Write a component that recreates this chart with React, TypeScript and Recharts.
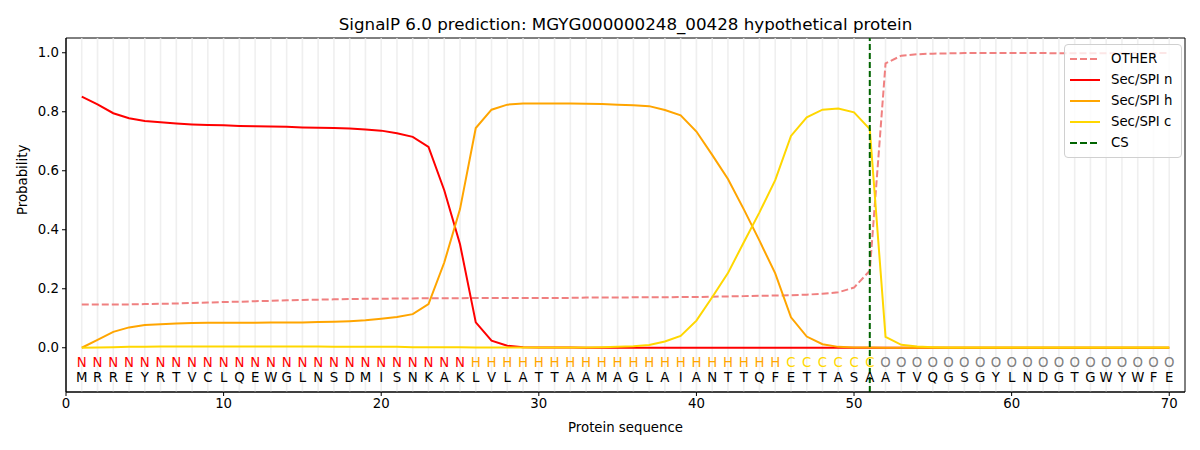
import { LineChart, Line, XAxis, YAxis, ReferenceLine, ReferenceDot, ReferenceArea, Legend } from 'recharts'

const positions = Array.from({ length: 70 }, (_, i) => i + 1)

const sequence = 'MRREYRTVCLQEWGLNSDMISNKAKLVLATTAAMAGLAIANTTQFETTASAATVQGSGYLNDGTGWYWFE'.split('')

const regionLabels = (
  'NNNNNNNNNNNNNNNNNNNNNNNNN' + 'HHHHHHHHHHHHHHHHHHHH' + 'CCCCCC' + 'OOOOOOOOOOOOOOOOOOO'
).split('')

const otherProb = [
  0.147, 0.147, 0.147, 0.147, 0.148, 0.149, 0.150, 0.152, 0.153, 0.155,
  0.156, 0.158, 0.159, 0.161, 0.162, 0.163, 0.164, 0.165, 0.166, 0.166,
  0.167, 0.167, 0.168, 0.168, 0.168, 0.169, 0.169, 0.169, 0.169, 0.169,
  0.169, 0.169, 0.170, 0.170, 0.170, 0.171, 0.171, 0.171, 0.172, 0.172,
  0.173, 0.174, 0.175, 0.176, 0.177, 0.178, 0.180, 0.183, 0.188, 0.204,
  0.261, 0.964, 0.990, 0.995, 0.997, 0.998, 0.999, 0.999, 0.999, 0.999,
  0.999, 0.999, 0.998, 0.998, 0.998, 0.998, 0.998, 0.998, 0.999, 0.999,
]

const nProb = [
  0.851, 0.825, 0.795, 0.778, 0.769, 0.764, 0.760, 0.757, 0.755, 0.754,
  0.752, 0.751, 0.750, 0.749, 0.747, 0.746, 0.745, 0.743, 0.740, 0.736,
  0.727, 0.715, 0.681, 0.534, 0.351, 0.086, 0.024, 0.007, 0.002, 0.001,
  0.001, 0.001, 0.000, 0.000, 0.000, 0.000, 0.000, 0.000, 0.000, 0.000,
  0.000, 0.000, 0.000, 0.000, 0.000, 0.000, 0.000, 0.000, 0.000, 0.000,
  0.000, 0.000, 0.000, 0.000, 0.000, 0.000, 0.000, 0.000, 0.000, 0.000,
  0.000, 0.000, 0.000, 0.000, 0.000, 0.000, 0.000, 0.000, 0.000, 0.000,
]

const hProb = [
  0.000, 0.027, 0.054, 0.069, 0.077, 0.080, 0.082, 0.084, 0.085, 0.085,
  0.085, 0.085, 0.086, 0.086, 0.086, 0.087, 0.088, 0.090, 0.093, 0.098,
  0.104, 0.114, 0.148, 0.289, 0.470, 0.745, 0.807, 0.824, 0.828, 0.828,
  0.828, 0.828, 0.827, 0.826, 0.824, 0.822, 0.819, 0.806, 0.788, 0.733,
  0.654, 0.572, 0.470, 0.363, 0.252, 0.103, 0.038, 0.012, 0.003, 0.001,
  0.001, 0.000, 0.000, 0.000, 0.000, 0.000, 0.000, 0.000, 0.000, 0.000,
  0.000, 0.000, 0.000, 0.000, 0.000, 0.000, 0.000, 0.000, 0.000, 0.000,
]

const cProb = [
  0.000, 0.001, 0.002, 0.003, 0.003, 0.004, 0.004, 0.004, 0.004, 0.004,
  0.004, 0.004, 0.004, 0.004, 0.004, 0.004, 0.003, 0.003, 0.003, 0.003,
  0.003, 0.002, 0.002, 0.002, 0.002, 0.001, 0.001, 0.001, 0.001, 0.001,
  0.001, 0.001, 0.001, 0.002, 0.003, 0.005, 0.009, 0.021, 0.040, 0.092,
  0.171, 0.253, 0.357, 0.459, 0.568, 0.718, 0.781, 0.807, 0.811, 0.798,
  0.741, 0.037, 0.010, 0.004, 0.002, 0.001, 0.001, 0.001, 0.001, 0.001,
  0.001, 0.001, 0.001, 0.001, 0.001, 0.001, 0.001, 0.001, 0.001, 0.001,
]

const cleavageSite = 51
const xTicks = [0, 10, 20, 30, 40, 50, 60, 70]
const yTicks = [0, 0.2, 0.4, 0.6, 0.8, 1.0]

const labelColors: Record<string, string> = { N: '#ff0000', H: '#ffa500', C: '#ffd700', O: '#808080' }

const legendItems = [
  { name: 'OTHER', color: '#f08080', dash: true },
  { name: 'Sec/SPI n', color: '#ff0000', dash: false },
  { name: 'Sec/SPI h', color: '#ffa500', dash: false },
  { name: 'Sec/SPI c', color: '#ffd700', dash: false },
  { name: 'CS', color: '#006400', dash: true },
]

const data = positions.map((p, i) => ({
  pos: p,
  other: otherProb[i],
  n: nProb[i],
  h: hProb[i],
  c: cProb[i],
}))

const FONT = 'DejaVu Sans, sans-serif'

function LegendBox() {
  return (
    <div
      style={{
        border: '1px solid #d0d0d0',
        borderRadius: 4,
        background: 'rgba(255,255,255,0.8)',
        padding: '3px 9px 4px 5px',
        fontFamily: FONT,
        fontSize: 13.3,
        color: '#000',
      }}
    >
      {legendItems.map((it) => (
        <div key={it.name} style={{ display: 'flex', alignItems: 'center', height: 21 }}>
          <svg width={30} height={10} style={{ marginRight: 11 }}>
            <line
              x1={0}
              y1={5}
              x2={30}
              y2={5}
              stroke={it.color}
              strokeWidth={2}
              strokeDasharray={it.dash ? '7 3' : undefined}
            />
          </svg>
          <span>{it.name}</span>
        </div>
      ))}
    </div>
  )
}

export default function App() {
  return (
    <div style={{ position: 'absolute', left: 0, top: 0, width: 1200, height: 450, background: '#fff' }}>
      <div
        style={{
          position: 'absolute',
          top: 14,
          left: 66,
          width: 1119,
          textAlign: 'center',
          fontFamily: FONT,
          fontSize: 16.7,
          color: '#000',
        }}
      >
        SignalP 6.0 prediction: MGYG000000248_00428 hypothetical protein
      </div>
      <LineChart
        width={1200}
        height={450}
        data={data}
        margin={{ top: 38, right: 15, bottom: 0, left: 0 }}
        style={{ fontFamily: FONT }}
      >
        {positions.map((p) => (
          <ReferenceLine key={'g' + p} x={p} stroke="#ebebeb" strokeWidth={1.6} strokeOpacity={0.8} />
        ))}
        <XAxis
          dataKey="pos"
          type="number"
          domain={[0, 71]}
          ticks={xTicks}
          allowDataOverflow
          height={58}
          stroke="#000"
          tick={{ fill: '#000', fontSize: 13.3 }}
          tickSize={4}
          tickMargin={3}
          label={{ value: 'Protein sequence', position: 'insideBottom', offset: 18, fill: '#000', fontSize: 13.3 }}
        />
        <YAxis
          type="number"
          domain={[-0.15, 1.05]}
          ticks={yTicks}
          allowDataOverflow
          width={66}
          stroke="#000"
          tick={{ fill: '#000', fontSize: 13.3 }}
          tickSize={4}
          tickMargin={3}
          tickFormatter={(v: number) => v.toFixed(1)}
          label={{ value: 'Probability', angle: -90, position: 'insideLeft', offset: 22, fill: '#000', fontSize: 13.3 }}
        />
        <Line dataKey="other" name="OTHER" stroke="#f08080" strokeWidth={2} strokeDasharray="7 3" dot={false} isAnimationActive={false} />
        <Line dataKey="n" name="Sec/SPI n" stroke="#ff0000" strokeWidth={2} dot={false} isAnimationActive={false} />
        <Line dataKey="h" name="Sec/SPI h" stroke="#ffa500" strokeWidth={2} dot={false} isAnimationActive={false} />
        <Line dataKey="c" name="Sec/SPI c" stroke="#ffd700" strokeWidth={2} dot={false} isAnimationActive={false} />
        <ReferenceLine x={cleavageSite} stroke="#006400" strokeWidth={2} strokeDasharray="6 3" segment={[{ x: cleavageSite, y: 0 }, { x: cleavageSite, y: 1.035 }]} />
        {positions.map((p, i) => (
          <ReferenceDot
            key={'l' + p}
            x={p}
            y={-0.05}
            r={0}
            ifOverflow="visible"
            shape={(props: any) => (
              <text x={props.cx} y={props.cy} textAnchor="middle" dominantBaseline="central" fontSize={13.3} fill={labelColors[regionLabels[i]]}>
                {regionLabels[i]}
              </text>
            )}
          />
        ))}
        {positions.map((p, i) => (
          <ReferenceDot
            key={'a' + p}
            x={p}
            y={-0.1}
            r={0}
            ifOverflow="visible"
            shape={(props: any) => (
              <text x={props.cx} y={props.cy} textAnchor="middle" dominantBaseline="central" fontSize={13.3} fill="#000">
                {sequence[i]}
              </text>
            )}
          />
        ))}
        <ReferenceArea x1={0} x2={71} y1={-0.15} y2={1.05} fill="none" stroke="#000" strokeWidth={1} ifOverflow="visible" />
        <Legend
          layout="horizontal"
          verticalAlign="middle"
          align="center"
          wrapperStyle={{ top: 44, left: 1064, width: 'auto' }}
          content={() => <LegendBox />}
        />
      </LineChart>
    </div>
  )
}
